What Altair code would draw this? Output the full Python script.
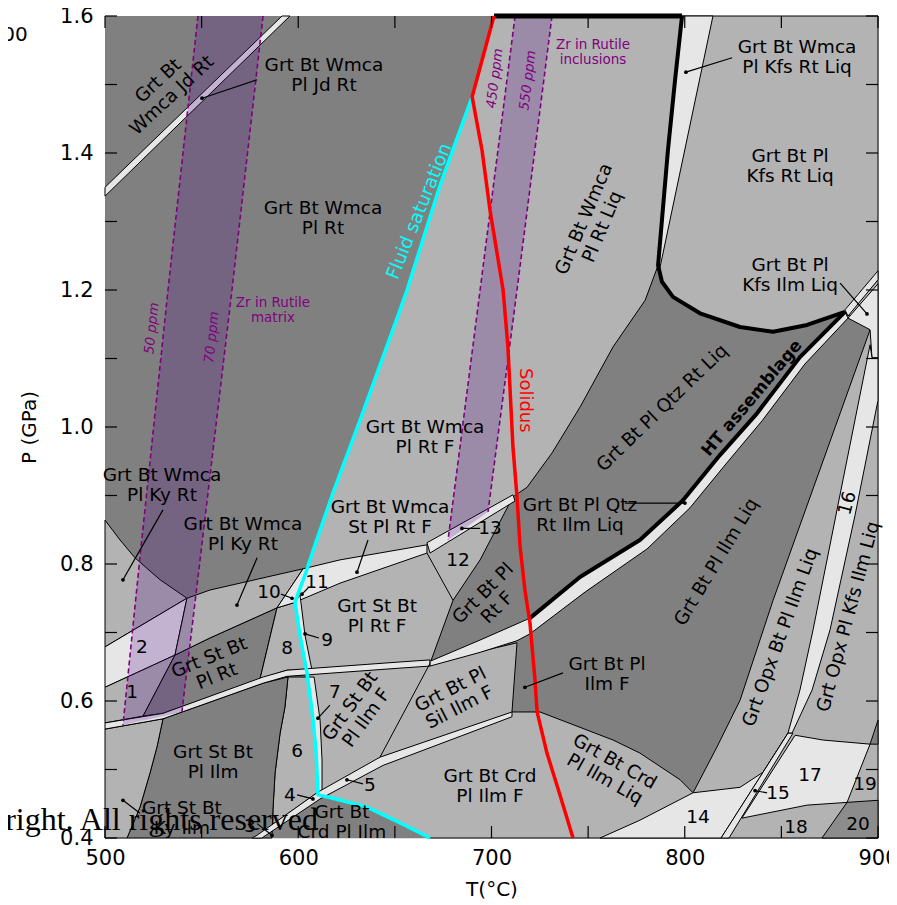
import altair as alt
import pandas as pd

# ---------------- data (T in °C, P in GPa) ----------------
X_TICK_LABELS = [500, 600, 700, 800, 900]
Y_TICK_LABELS = [0.4, 0.6, 0.8, 1.0, 1.2, 1.4, 1.6]
X_TICKS = [500, 550, 600, 650, 700, 750, 800, 850, 900]
Y_TICKS = [0.4, 0.5, 0.6, 0.7, 0.8, 0.9, 1.0, 1.1, 1.2, 1.3, 1.4, 1.5, 1.6]

FRAME = [(500, 0.4), (900, 0.4), (900, 1.6), (500, 1.6)]
CYAN = [(690.0, 1.482), (673.4, 1.353), (656.3, 1.200), (652.7, 1.171), (642.3, 1.090),
        (632.0, 1.010), (618.0, 0.904), (608.7, 0.828), (603.5, 0.784), (598.3, 0.744),
        (600.9, 0.696), (604.5, 0.641), (607.1, 0.587), (609.2, 0.528), (610.2, 0.463),
        (618.0, 0.458), (635.6, 0.445), (652.7, 0.422), (668.2, 0.400)]
SOLIDUS = [(701.3, 1.600), (690.0, 1.482), (695.1, 1.404), (699.2, 1.317), (706.0, 1.200),
           (708.5, 1.117), (711.1, 0.971), (713.2, 0.898), (714.8, 0.825), (717.3, 0.762),
           (719.9, 0.714), (722.5, 0.631), (723.6, 0.584), (728.7, 0.524), (735.4, 0.463),
           (742.2, 0.400)]
KLINE = [(798.6, 1.600), (795.0, 1.507), (791.3, 1.404), (788.2, 1.302), (786.2, 1.236),
         (788.2, 1.212), (793.9, 1.190), (807.9, 1.166), (828.6, 1.146), (845.7, 1.139),
         (863.3, 1.149), (882.9, 1.168)]
TOP_THICK = [(701.3, 1.600), (798.6, 1.600)]
HT_LINE = [(882.9, 1.168), (859.6, 1.102), (837.4, 1.020), (818.2, 0.959), (799.1, 0.893),
           (776.8, 0.835), (745.8, 0.781), (719.9, 0.721)]
HT_BAND_REST = [(694.1, 0.689), (668.2, 0.658), (668.2, 0.651), (694.1, 0.671), (713.2, 0.688),
                (719.9, 0.698), (748.4, 0.759), (780.5, 0.822), (802.7, 0.882), (821.3, 0.946),
                (840.0, 1.009), (862.2, 1.092), (884.5, 1.159)]

JD_BAND = [(500, 1.350), (591.6, 1.600), (595.7, 1.600), (500, 1.337)]
C1_WEDGE = [(798.6, 1.600), (814.6, 1.600), (787.2, 1.233), (786.2, 1.236), (788.2, 1.302),
            (791.3, 1.404), (795.0, 1.507)]
D_FIELD = [(786.2, 1.236), (788.2, 1.212), (793.9, 1.190), (807.9, 1.166), (828.6, 1.146),
           (845.7, 1.139), (863.3, 1.149), (882.9, 1.168), (895.9, 1.142), (845.7, 0.747),
           (828.6, 0.601), (816.7, 0.533), (804.3, 0.466), (797.6, 0.485), (776.8, 0.524),
           (762.9, 0.543), (725.1, 0.584), (710.6, 0.584), (713.2, 0.685), (668.2, 0.655),
           (680.1, 0.747), (694.1, 0.806), (711.1, 0.898), (718.4, 0.912), (731.3, 0.962),
           (745.8, 1.029), (762.9, 1.117), (779.5, 1.185)]
HT_EXT = [(882.9, 1.171), (900, 1.228), (900, 1.215), (884.5, 1.162)]
KFS_ILM = [(884.5, 1.159), (900, 1.209), (900, 1.101), (896.9, 1.101), (895.9, 1.142)]
BAND16 = [(896.9, 1.101), (900, 1.101), (900, 1.039), (888.1, 0.871), (875.2, 0.704),
          (865.9, 0.616), (855.5, 0.553), (853.4, 0.553), (859.6, 0.616), (866.4, 0.704),
          (881.9, 0.923), (895.9, 1.120)]
REGION14 = [(756.2, 0.400), (776.8, 0.426), (804.3, 0.466), (828.6, 0.474), (840.5, 0.496),
            (853.4, 0.553), (818.8, 0.400)]
BAND15 = [(853.4, 0.553), (856.0, 0.553), (822.9, 0.400), (818.8, 0.400)]
REGION17 = [(857.1, 0.550), (871.6, 0.543), (895.9, 0.537), (884.0, 0.452), (863.3, 0.448),
            (829.6, 0.429)]
REGION20 = [(884.0, 0.452), (900, 0.455), (900, 0.400), (871.0, 0.400)]
TINY_DARK = [(900, 0.572), (900, 0.537), (895.9, 0.537)]

KYRT1 = [(500, 0.864), (507.8, 0.835), (515.5, 0.809), (528.5, 0.777), (542.4, 0.750), (500, 0.679)]
REGION2 = [(500, 0.679), (542.4, 0.750), (536.2, 0.667), (500, 0.620)]
REGION1 = [(500, 0.620), (536.2, 0.667), (519.7, 0.578), (500, 0.568)]
STBTPLRT = [(536.2, 0.667), (554.3, 0.692), (589.0, 0.736), (580.2, 0.632), (530.0, 0.582),
            (519.7, 0.578)]
REGION8 = [(589.0, 0.736), (598.3, 0.744), (600.9, 0.696), (604.5, 0.645), (594.2, 0.645),
           (580.2, 0.632)]
KYRT2 = [(542.4, 0.750), (554.3, 0.762), (583.8, 0.781), (602.5, 0.793), (589.0, 0.736),
         (554.3, 0.692), (536.2, 0.667)]
STPLRTF = [(602.5, 0.793), (621.6, 0.806), (666.6, 0.828), (666.6, 0.816), (621.6, 0.772),
           (597.3, 0.743), (589.0, 0.736)]
BAND13 = [(666.6, 0.831), (711.1, 0.901), (712.2, 0.892), (668.2, 0.816)]
REGION9 = [(598.3, 0.744), (600.9, 0.696), (604.5, 0.645), (607.1, 0.645), (603.5, 0.696),
           (600.9, 0.755)]
REGION7 = [(604.5, 0.635), (608.2, 0.635), (611.3, 0.572), (612.3, 0.514), (612.3, 0.470),
           (610.2, 0.463), (609.2, 0.528), (607.1, 0.587)]
REGION6 = [(594.7, 0.635), (604.5, 0.635), (607.1, 0.587), (609.2, 0.528), (610.2, 0.467),
           (586.9, 0.420), (586.9, 0.441), (588.0, 0.495), (590.6, 0.553), (593.1, 0.591)]
STBTPLILM = [(530.0, 0.574), (581.8, 0.626), (594.7, 0.635), (593.1, 0.591), (590.6, 0.553),
             (588.0, 0.495), (586.9, 0.441), (586.4, 0.400), (511.4, 0.400), (518.1, 0.445),
             (523.3, 0.495), (526.9, 0.533)]
KYILM = [(500, 0.559), (530.0, 0.574), (526.9, 0.533), (523.3, 0.495), (518.1, 0.445),
         (511.4, 0.400), (500, 0.400)]
LLOW_BAND = [(500, 0.568), (530.0, 0.582), (581.8, 0.635), (594.2, 0.645), (652.7, 0.657),
             (668.2, 0.660), (668.2, 0.651), (652.7, 0.648), (594.2, 0.636), (581.8, 0.626),
             (530.0, 0.574), (500, 0.559)]
CRD_BAND = [(710.6, 0.584), (642.3, 0.518), (610.2, 0.467), (578.7, 0.404), (576.1, 0.400),
            (581.2, 0.400), (611.3, 0.457), (643.9, 0.506), (710.6, 0.577)]
SIL_LINE = [(668.2, 0.655), (642.3, 0.518)]
TWELVE_LINE = [(666.6, 0.816), (680.1, 0.747)]

ZR50 = [(548.1, 1.600), (532.6, 1.200), (518.1, 0.810), (509.3, 0.565)]
ZR70 = [(581.8, 1.600), (565.7, 1.200), (549.2, 0.806), (539.8, 0.584)]
ZR450 = [(712.2, 1.600), (694.1, 1.200), (677.5, 0.835)]
ZR550 = [(731.3, 1.600), (713.2, 1.200), (698.2, 0.876)]

LEADERS = [((578.7, 1.507), (550.2, 1.480)), ((824.5, 1.539), (800.6, 1.518)),
           ((880.4, 1.210), (894.3, 1.165)), ((769.1, 0.889), (800.1, 0.889)),
           ((530.0, 0.879), (509.3, 0.777)), ((578.7, 0.809), (568.3, 0.740)),
           ((636.1, 0.835), (630.4, 0.788)), ((694.1, 0.852), (684.7, 0.852)),
           ((591.1, 0.756), (596.8, 0.750)), ((605.1, 0.765), (601.9, 0.756)),
           ((610.7, 0.692), (603.5, 0.698)), ((616.4, 0.594), (610.2, 0.575)),
           ((599.4, 0.463), (607.6, 0.457)), ((633.5, 0.479), (625.2, 0.485)),
           ((578.7, 0.421), (586.4, 0.404)), ((518.1, 0.436), (509.3, 0.455)),
           ((737.0, 0.641), (717.3, 0.620)), ((842.6, 0.466), (836.4, 0.469))]

TWO_LINE_LABELS = [
    ("Grt Bt\nWmca Jd Rt", 531.0, 1.495, 317), ("Grt Bt Wmca\nPl Jd Rt", 613.3, 1.514, 0),
    ("Grt Bt Wmca\nPl Rt", 612.8, 1.305, 0), ("Grt Bt Wmca\nPl Rt Liq", 752.5, 1.298, 293),
    ("Grt Bt Wmca\nPl Kfs Rt Liq", 858.1, 1.540, 0), ("Grt Bt Pl\nKfs Rt Liq", 854.5, 1.381, 0),
    ("Grt Bt Pl\nKfs Ilm Liq", 854.5, 1.222, 0),
    ("Grt Bt Pl Qtz\nRt Ilm Liq", 745.8, 0.871, 0), ("Grt Bt Wmca\nPl Rt F", 665.6, 0.985, 0),
    ("Grt Bt Wmca\nPl Ky Rt", 529.5, 0.915, 0), ("Grt Bt Wmca\nPl Ky Rt", 571.4, 0.844, 0),
    ("Grt Bt Wmca\nSt Pl Rt F", 647.5, 0.869, 0), ("Grt St Bt\nPl Rt F", 640.8, 0.724, 0),
    ("Grt St Bt\nPl Rt", 555.9, 0.650, 338), ("Grt St Bt\nPl Ilm", 555.9, 0.511, 0),
    ("Grt St Bt\nKy Ilm", 539.8, 0.429, 0), ("Grt St Bt\nPl Ilm F", 630.9, 0.584, 306),
    ("Grt Bt Pl\nSil Ilm F", 681.1, 0.604, 333), ("Grt Bt Pl\nRt F", 699.2, 0.747, 315),
    ("Grt Bt Pl\nIlm F", 759.8, 0.639, 0), ("Grt Bt Crd\nPl Ilm F", 699.2, 0.476, 0),
    ("Grt Bt Crd\nPl Ilm Liq", 761.3, 0.499, 29.5), ("Grt Bt\nCrd Pl Ilm", 622.6, 0.423, 0),
]
ONE_LINE_LABELS = [
    ("Grt Bt Pl Qtz Rt Liq", 788.2, 1.028, 316),
    ("Grt Bt Pl Ilm Liq", 816.2, 0.803, 301), ("Grt Opx Bt Pl Ilm Liq", 849.3, 0.693, 290),
    ("Grt Opx Pl Kfs Ilm Liq", 884.5, 0.723, 285),
    ("1", 514.0, 0.613, 0), ("2", 519.1, 0.679, 0), ("3", 575.0, 0.417, 0), ("4", 595.7, 0.463, 0),
    ("5", 637.1, 0.477, 0), ("6", 599.4, 0.527, 0), ("7", 619.0, 0.613, 0), ("8", 594.2, 0.677, 0),
    ("9", 614.9, 0.689, 0), ("10", 584.9, 0.759, 0), ("11", 609.7, 0.774, 0), ("12", 682.7, 0.806, 0),
    ("13", 699.2, 0.852, 0), ("14", 806.9, 0.431, 0), ("15", 848.3, 0.466, 0), ("16", 884.0, 0.889, 285),
    ("17", 864.8, 0.492, 0), ("18", 857.6, 0.416, 0), ("19", 893.3, 0.479, 0), ("20", 889.7, 0.420, 0),
]
ZR_PPM_LABELS = [("50 ppm", 524.3, 1.144, 276), ("70 ppm", 555.4, 1.131, 276),
                 ("450 ppm", 701.8, 1.509, 277), ("550 ppm", 718.9, 1.506, 277)]
ZR_TITLES = [("Zr in Rutile\nmatrix", 586.9, 1.171, 0), ("Zr in Rutile\ninclusions", 752.5, 1.547, 0)]
FLUID_LABEL = [("Fluid saturation", 662.5, 1.315, 292)]
SOLIDUS_LABEL = [("Solidus", 717.3, 1.039, 90)]
HT_LABEL = [("HT assemblage", 834.8, 1.042, 310)]
WATERMARK = [("right. All rights reserved", 610.2, 0.412, 0)]
CORNER_TEXT = [("00", 460.0, 1.572, 0)]

DARK, MID, LIGHT, DARK2 = "#808080", "#b3b3b3", "#e6e6e6", "#8c8c8c"
FONT = "DejaVu Sans"

# ---------------- scales / axes ----------------
XS = alt.Scale(domain=[500, 900], nice=False, zero=False)
YS = alt.Scale(domain=[0.4, 1.6], nice=False, zero=False)
XAX = alt.Axis(values=X_TICK_LABELS, title="T(°C)", ticks=False, tickSize=0, domain=False,
               grid=False, labelFontSize=21, labelPadding=9, labelFlush=False,
               titleFontSize=20, titleFontWeight="normal", titleY=51, titleBaseline="middle",
               labelColor="black", titleColor="black", labelFont=FONT, titleFont=FONT)
YAX = alt.Axis(values=Y_TICK_LABELS, format=".1f", title="P (GPa)", ticks=False, tickSize=0,
               domain=False, grid=False, labelFontSize=21, labelPadding=12, labelFlush=False,
               titleFontSize=20, titleFontWeight="normal", titleX=-76, titleBaseline="middle",
               labelColor="black", titleColor="black", labelFont=FONT, titleFont=FONT)


def enc_xy():
    return dict(x=alt.X("T:Q", scale=XS, axis=XAX), y=alt.Y("P:Q", scale=YS, axis=YAX))


def pts_df(pts):
    return pd.DataFrame({"T": [p[0] for p in pts], "P": [p[1] for p in pts], "i": list(range(len(pts)))})


def poly(pts, fill, sw=1.0, stroke="black", fop=1.0):
    return alt.Chart(pts_df(pts)).mark_line(
        interpolate="linear-closed", fill=fill, fillOpacity=fop, stroke=stroke,
        strokeWidth=sw, strokeJoin="round").encode(order="i:Q", **enc_xy())


def path(pts, color, sw, dash=None):
    kw = dict(stroke=color, strokeWidth=sw, strokeJoin="round", strokeCap="butt")
    if dash:
        kw["strokeDash"] = dash
    return alt.Chart(pts_df(pts)).mark_line(**kw).encode(order="i:Q", **enc_xy())


def labels(rows, color, size, style="normal", weight="normal", lh=20, align="center",
           baseline="middle", font=FONT, dy=0):
    df = pd.DataFrame({"text": [r[0] for r in rows], "T": [r[1] for r in rows],
                       "P": [r[2] for r in rows], "angle": [r[3] for r in rows]})
    return alt.Chart(df).mark_text(
        font=font, fontSize=size, fontStyle=style, fontWeight=weight, color=color,
        lineBreak="\n", lineHeight=lh, align=align, baseline=baseline, dy=dy).encode(
        text="text:N", angle=alt.Angle("angle:Q", scale=None), **enc_xy())


layers = []
# base fields
layers.append(poly(FRAME, DARK, sw=0, stroke="transparent"))
layers.append(poly([SOLIDUS[0]] + CYAN + [(900, 0.400), (900, 1.600)], MID))
layers.append(poly(JD_BAND, LIGHT))
layers.append(poly(C1_WEDGE, LIGHT))
layers.append(poly(D_FIELD, DARK))
for pts, col in [(HT_EXT, LIGHT), (KFS_ILM, LIGHT), (BAND16, LIGHT), (REGION14, LIGHT),
                 (BAND15, LIGHT), (REGION17, LIGHT), (REGION20, DARK2), (TINY_DARK, DARK),
                 (KYRT1, MID), (REGION2, LIGHT), (REGION1, MID), (STBTPLRT, DARK),
                 (REGION8, MID), (KYRT2, MID), (STPLRTF, LIGHT), (BAND13, LIGHT),
                 (REGION9, LIGHT), (REGION7, LIGHT), (REGION6, MID), (STBTPLILM, DARK),
                 (KYILM, MID), (LLOW_BAND, LIGHT), (CRD_BAND, LIGHT)]:
    layers.append(poly(pts, col))
layers.append(poly(HT_LINE + HT_BAND_REST, LIGHT))
layers.append(path(SIL_LINE, "black", 1.0))
layers.append(path(TWELVE_LINE, "black", 1.0))

# Zr in rutile bands
layers.append(poly(ZR50 + ZR70[::-1], "#4b0082", sw=0, stroke="transparent", fop=0.22))
layers.append(poly(ZR450 + ZR550[::-1], "#4b0082", sw=0, stroke="transparent", fop=0.22))
for z in (ZR50, ZR70, ZR450, ZR550):
    layers.append(path(z, "#800080", 1.6, dash=[5, 3]))

# thick boundaries and special lines
layers.append(path(KLINE, "black", 4))
layers.append(path(HT_LINE, "black", 4))
layers.append(path(TOP_THICK, "black", 5))
layers.append(path(CYAN, "#00ffff", 3.5))
layers.append(path(SOLIDUS, "#ff0000", 3.5))

# inward ticks
dfx = pd.DataFrame({"T": X_TICKS})
dfy = pd.DataFrame({"P": Y_TICKS})
XT = alt.X("T:Q", scale=XS, axis=XAX)
YT = alt.Y("P:Q", scale=YS, axis=YAX)
layers.append(alt.Chart(dfx).mark_rule(color="black", strokeWidth=1.2).encode(
    x=XT, y=alt.value(822), y2=alt.value(810)))
layers.append(alt.Chart(dfx).mark_rule(color="black", strokeWidth=1.2).encode(
    x=XT, y=alt.value(0), y2=alt.value(12)))
layers.append(alt.Chart(dfy).mark_rule(color="black", strokeWidth=1.2).encode(
    y=YT, x=alt.value(0), x2=alt.value(12)))
layers.append(alt.Chart(dfy).mark_rule(color="black", strokeWidth=1.2).encode(
    y=YT, x=alt.value(773), x2=alt.value(761)))

# leaders
ldf = pd.DataFrame({"T": [a[0] for a, b in LEADERS], "P": [a[1] for a, b in LEADERS],
                    "T2": [b[0] for a, b in LEADERS], "P2": [b[1] for a, b in LEADERS]})
layers.append(alt.Chart(ldf).mark_rule(color="black", strokeWidth=1.2).encode(
    x=XT, y=YT, x2="T2:Q", y2="P2:Q"))
ddf = pd.DataFrame({"T": [b[0] for a, b in LEADERS], "P": [b[1] for a, b in LEADERS]})
layers.append(alt.Chart(ddf).mark_point(filled=True, color="black", size=14, opacity=1).encode(
    x=XT, y=YT))

# texts
layers.append(labels(TWO_LINE_LABELS, "black", 18.5, dy=-10))
layers.append(labels(ONE_LINE_LABELS, "black", 18.5))
layers.append(labels(ZR_PPM_LABELS, "#800080", 13.5, style="italic"))
layers.append(labels(ZR_TITLES, "#800080", 13.5, lh=15, dy=-7))
layers.append(labels(FLUID_LABEL, "#00ffff", 18.5))
layers.append(labels(SOLIDUS_LABEL, "#ff0000", 18))
layers.append(labels(HT_LABEL, "black", 17, weight="bold"))
layers.append(labels(WATERMARK, "black", 32, align="right", baseline="alphabetic",
                     font="Liberation Serif"))
layers.append(labels(CORNER_TEXT, "black", 20, align="right"))

chart = alt.layer(*layers).properties(
    width=773, height=822,
    autosize=alt.AutoSizeParams(type="none"),
    padding={"left": 97, "top": 8, "right": 11, "bottom": 61},
).configure_view(stroke="black", strokeWidth=1.5).configure(font=FONT)

chart.save("out.html", embed_options={"renderer": "svg", "actions": False})
